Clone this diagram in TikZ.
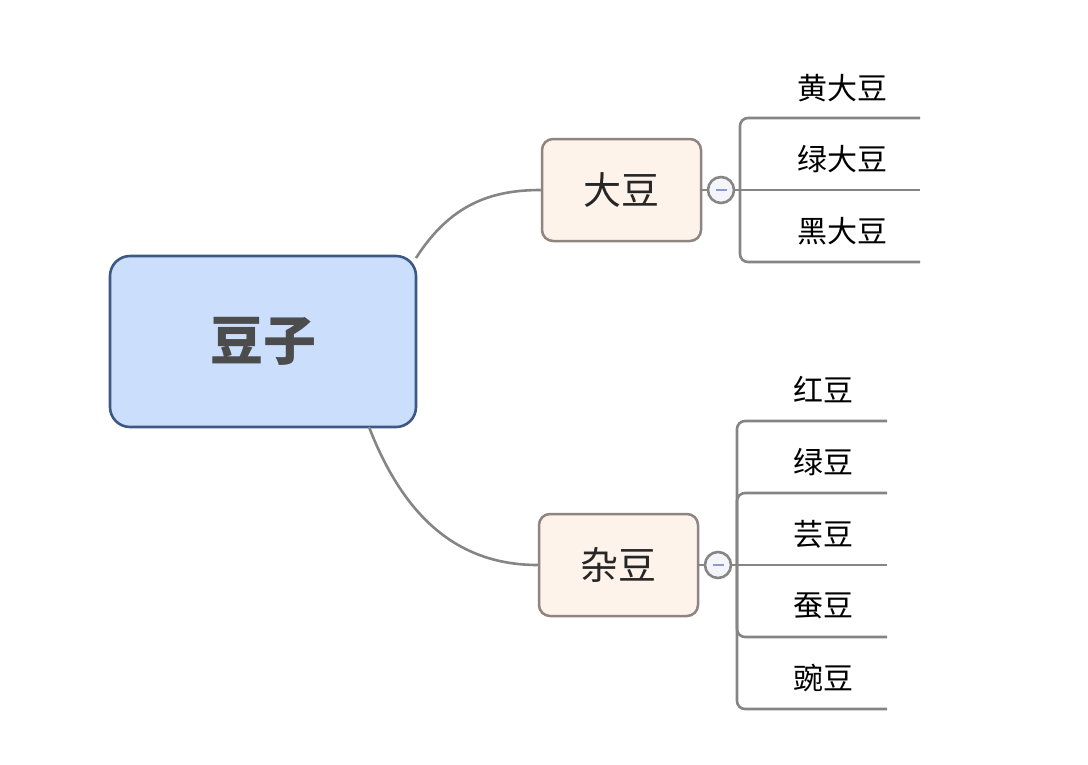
\documentclass[tikz,border=0pt]{standalone}
\usepackage{fontspec}
\newfontfamily\cjk{Noto Sans CJK SC}
\definecolor{rootfill}{HTML}{CBDEFC}
\definecolor{rootdraw}{HTML}{3E5886}
\definecolor{subfill}{HTML}{FDF3EA}
\definecolor{subdraw}{HTML}{8E8580}
\definecolor{linegray}{HTML}{858585}
\definecolor{minusblue}{HTML}{8C98CF}
\definecolor{circfill}{HTML}{F4F5FB}
\begin{document}
\begin{tikzpicture}[x=1pt,y=-1pt,
  rootbox/.style={draw=rootdraw,fill=rootfill,line width=2.6pt,rounded corners=20pt,minimum width=306pt,minimum height=171pt,inner sep=0pt,font=\cjk\bfseries\fontsize{53}{60}\selectfont,text=black!70},
  subbox/.style={draw=subdraw,fill=subfill,line width=2.5pt,rounded corners=11pt,minimum width=159pt,minimum height=102pt,inner sep=0pt,font=\cjk\fontsize{38}{44}\selectfont,text=black!85},
  leaf/.style={font=\cjk\fontsize{30}{36}\selectfont,text=black,inner sep=0pt},
  conn/.style={draw=linegray,line width=2.6pt},
  toggle/.style={circle,draw=linegray,fill=circfill,line width=2.6pt,minimum size=26pt,inner sep=0pt},
]
\useasboundingbox (0,0) rectangle (1088,764);
\node[rootbox] (root) at (263,341.5) {豆子};
\node[subbox] (dadou) at (621.5,190) {大豆};
\node[subbox] (zadou) at (618.5,565) {杂豆};
% connectors root -> subtopics
\coordinate (r1) at (416,258);
\coordinate (r2) at (369,427);
\draw[conn] (r1) .. controls (450,205) and (490,190) .. (dadou.west);
\draw[conn] (r2) .. controls (405,520) and (460,565) .. (zadou.west);
% toggles
\node[toggle] (t1) at (721,190) {};
\node[toggle] (t2) at (718,565) {};
\draw[conn] (dadou.east) -- (t1.west);
\draw[conn] (zadou.east) -- (t2.west);
\draw[minusblue,line width=2.8pt] (715.5,190) -- (726.5,190);
\draw[minusblue,line width=2.8pt] (712.5,565) -- (723.5,565);
% top bracket
\coordinate (j1) at (740,190);
\coordinate (e11) at (920,118);
\coordinate (e12) at (920,190);
\coordinate (e13) at (920,262);
\draw[conn,rounded corners=8pt] (j1) |- (e11);
\draw[conn,rounded corners=8pt] (j1) |- (e13);
\draw[conn] (t1.east) -- (e12);
\node[leaf] (a1) at (842,88) {黄大豆};
\node[leaf] (a2) at (842,159) {绿大豆};
\node[leaf] (a3) at (842,231) {黑大豆};
% bottom bracket
\coordinate (j2) at (737,565);
\coordinate (e21) at (887,421);
\coordinate (e22) at (887,493);
\coordinate (e23) at (887,565);
\coordinate (e24) at (887,637);
\coordinate (e25) at (887,709);
\draw[conn,rounded corners=8pt] (j2) |- (e21);
\draw[conn,rounded corners=8pt] (j2) |- (e22);
\draw[conn,rounded corners=8pt] (j2) |- (e24);
\draw[conn,rounded corners=8pt] (j2) |- (e25);
\draw[conn] (t2.east) -- (e23);
\node[leaf] (b1) at (823,390) {红豆};
\node[leaf] (b2) at (823,462) {绿豆};
\node[leaf] (b3) at (823,534) {芸豆};
\node[leaf] (b4) at (823,606) {蚕豆};
\node[leaf] (b5) at (823,678) {豌豆};
\end{tikzpicture}
\end{document}
